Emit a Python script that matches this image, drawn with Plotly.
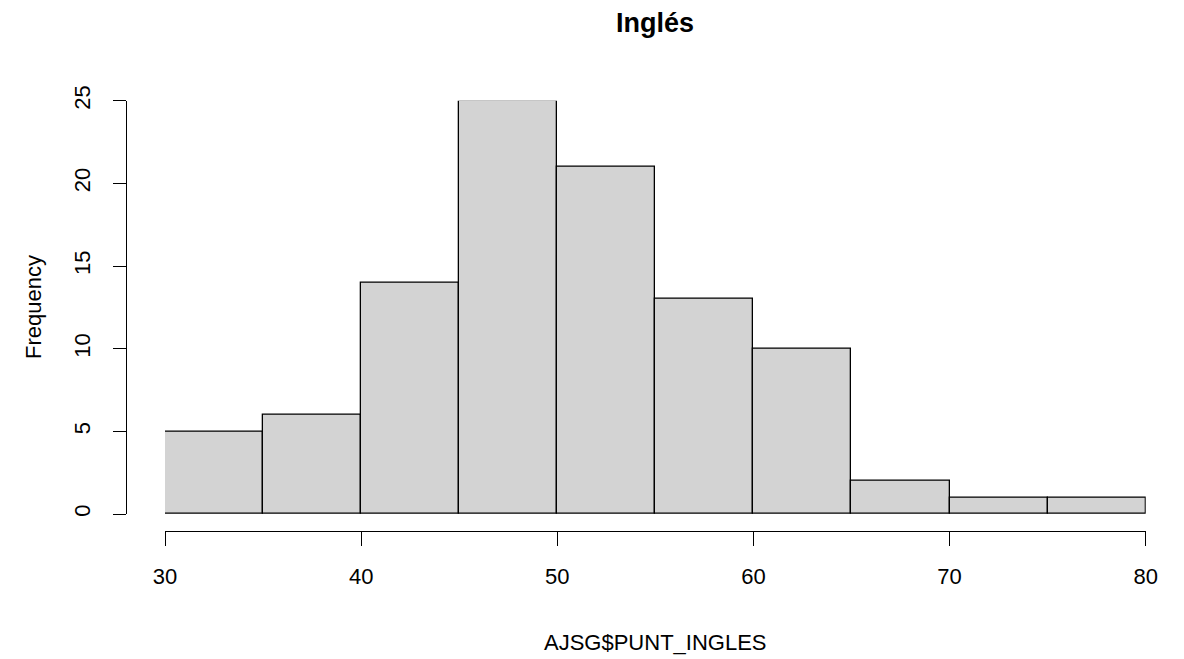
import plotly.graph_objects as go

# Data (R histogram of AJSG$PUNT_INGLES)
bin_edges = [30, 35, 40, 45, 50, 55, 60, 65, 70, 75, 80]
counts = [5, 6, 14, 25, 21, 13, 10, 2, 1, 1]
x_tick_vals = [30, 40, 50, 60, 70, 80]
y_tick_vals = [0, 5, 10, 15, 20, 25]
title_text = "Inglés"
x_label = "AJSG$PUNT_INGLES"
y_label = "Frequency"

centers = [(a + b) / 2 for a, b in zip(bin_edges[:-1], bin_edges[1:])]
widths = [b - a for a, b in zip(bin_edges[:-1], bin_edges[1:])]

# the page body has an 8px margin; the figure is sized to fit inside the window
OFF = 8
W, H = 1184 - OFF, 659 - OFF
FONT = "Liberation Sans, Arial, sans-serif"


def px_x(p):
    return (p - OFF) / W


def px_y(p):
    return 1 - (p - OFF) / H


fig = go.Figure()
fig.add_trace(go.Bar(
    x=centers, y=counts, width=widths,
    marker=dict(color="#D3D3D3", line=dict(color="#000000", width=1.3)),
    hoverinfo="x+y", showlegend=False,
))

axis_common = dict(
    showline=True, linecolor="#000000", linewidth=1.3,
    ticks="outside", tickcolor="#000000", tickwidth=1.3,
    showgrid=False, zeroline=False,
    tickfont=dict(family=FONT, size=22, color="#000000"),
    anchor="free",
)

fig.update_layout(
    width=W, height=H,
    margin=dict(l=0, r=0, t=0, b=0, autoexpand=False),
    paper_bgcolor="white", plot_bgcolor="white",
    font=dict(family=FONT, color="#000000"),
    bargap=0,
    xaxis=dict(
        domain=[px_x(165), px_x(1145.7)], range=[30, 80],
        position=px_y(531), ticklen=14,
        tickmode="array", tickvals=x_tick_vals,
        ticklabelstandoff=11,
        **axis_common,
    ),
    yaxis=dict(
        domain=[px_y(514), px_y(100.7)], range=[0, 25],
        position=px_x(126), ticklen=13,
        tickmode="array", tickvals=y_tick_vals,
        tickangle=-90, ticklabelstandoff=14,
        **axis_common,
    ),
    annotations=[
        dict(text="<b>" + title_text + "</b>", x=px_x(655), y=px_y(23),
             xref="paper", yref="paper", xanchor="center", yanchor="middle",
             showarrow=False, font=dict(family=FONT, size=27, color="#000000")),
        dict(text=x_label, x=px_x(655), y=px_y(642),
             xref="paper", yref="paper", xanchor="center", yanchor="middle",
             showarrow=False, font=dict(family=FONT, size=22, color="#000000")),
        dict(text=y_label, x=px_x(33), y=px_y(307), textangle=-90,
             xref="paper", yref="paper", xanchor="center", yanchor="middle",
             showarrow=False, font=dict(family=FONT, size=22, color="#000000")),
    ],
)

fig.write_html("out.html")
